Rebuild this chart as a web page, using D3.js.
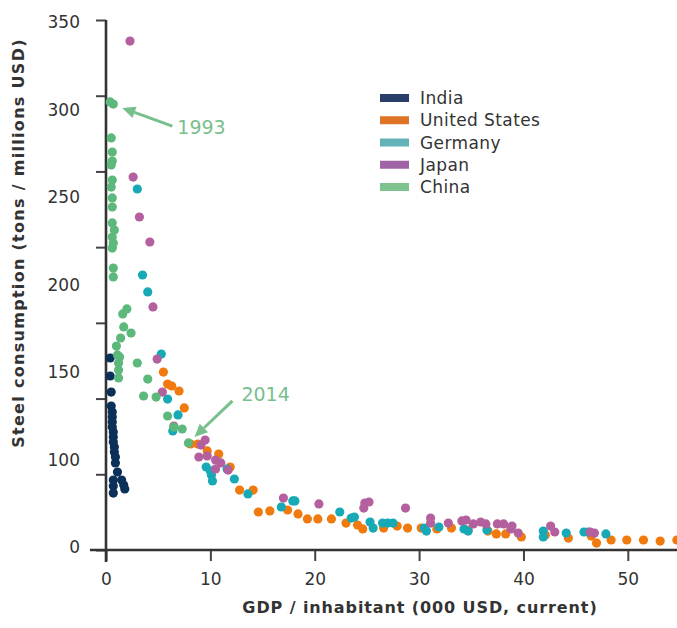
<!DOCTYPE html>
<html>
<head>
<meta charset="utf-8">
<script src="https://cdn.jsdelivr.net/npm/d3@7"></script>
<style>
  html, body { margin: 0; padding: 0; background: #ffffff; }
  svg { display: block; }
</style>
</head>
<body>
<svg id="chart" width="677" height="628"></svg>
<script>
// ---------------- DATA ----------------
const seriesNames = ["India", "United States", "Germany", "Japan", "China"];
const dotColors = ["#0c3159", "#f07a0e", "#17a9b5", "#b4609f", "#5db87c"];
const legendColors = ["#2a3e6a", "#df7429", "#62b2b8", "#a063a5", "#7ec38f"];

const xTickValues = [0, 10, 20, 30, 40, 50];
const yTickValues = [0, 50, 100, 150, 200, 250, 300, 350];
const yTickLabels = ["350", "300", "250", "200", "150", "100", "0"];

const xTitle = "GDP / inhabitant (000 USD, current)";
const yTitle = "Steel consumption (tons / millions USD)";

// [GDP per inhabitant (000 USD), steel consumption]
const india = [
  [0.4,126.8],[0.4,114.9],[0.5,104.3],[0.5,95.1],[0.6,91.1],[0.6,87.8],[0.6,84.5],
  [0.6,81.2],[0.7,77.9],[0.7,74.6],[0.7,71.3],[0.8,68.0],[0.8,64.7],[0.9,61.4],
  [0.9,57.5],[1.1,51.5],[0.7,46.2],[1.5,46.2],[1.7,42.9],[0.7,42.3],[1.8,40.3],[0.7,37.6]
];
const unitedStates = [
  [5.5,117.5],[5.9,109.6],[6.3,108.3],[7.0,105.0],[7.5,93.8],[8.1,70.0],[8.8,70.0],
  [9.7,65.4],[10.8,63.4],[11.9,54.8],[12.8,39.6],[14.1,39.6],[14.6,25.1],[15.7,25.8],
  [17.4,26.4],[18.4,23.8],[19.3,20.5],[20.3,20.5],[21.6,20.5],[23.0,17.8],[24.1,16.5],
  [24.6,13.9],[26.6,14.5],[27.9,15.8],[28.9,14.5],[30.2,14.5],[31.7,13.9],[33.1,14.5],
  [34.7,13.2],[36.6,12.5],[37.4,10.6],[38.3,10.6],[39.8,8.6],[42.1,9.9],[44.3,7.9],
  [46.5,9.2],[47.0,4.6],[48.4,6.6],[49.9,6.6],[51.5,6.6],[53.1,5.9],[54.7,6.6]
];
const germany = [
  [3.0,238.4],[3.5,181.6],[4.0,170.4],[5.3,129.4],[5.9,99.7],[6.9,89.2],[6.4,78.6],
  [9.6,54.8],[10.0,52.2],[10.1,49.5],[10.2,45.6],[11.6,53.5],[12.3,46.9],[13.6,37.0],
  [16.8,28.4],[17.9,32.4],[18.1,32.4],[22.4,25.1],[23.5,21.1],[23.8,21.8],[25.3,18.5],
  [25.6,14.5],[26.5,17.8],[27.0,17.8],[27.5,17.8],[30.5,14.5],[30.7,12.5],[31.9,15.2],
  [34.3,13.9],[34.7,12.5],[36.5,13.2],[41.9,12.5],[41.9,8.6],[44.1,11.2],[45.8,11.9],
  [46.2,11.9],[47.9,10.6]
];
const japan = [
  [2.3,336.1],[2.6,246.3],[3.2,219.9],[4.2,203.4],[4.5,160.5],[4.9,126.1],[5.4,104.3],
  [6.5,81.9],[9.5,72.6],[9.1,69.3],[8.9,61.4],[9.7,62.1],[10.5,59.4],[11.0,57.5],
  [10.5,53.5],[11.7,52.8],[17.0,34.3],[20.4,30.4],[24.8,31.0],[25.2,31.7],[24.7,27.7],
  [28.7,27.7],[31.1,21.1],[31.1,17.8],[32.8,17.8],[34.1,19.2],[34.5,19.8],[35.2,17.2],
  [35.9,18.5],[36.4,17.2],[37.5,17.2],[38.1,17.2],[38.9,15.8],[38.8,13.9],[39.5,11.2],
  [42.6,15.8],[43.0,11.9],[46.4,11.9],[46.8,11.2]
];
const china = [
  [0.4,295.9],[0.7,294.5],[0.5,272.1],[0.6,262.8],[0.6,256.9],[0.5,254.3],[0.6,244.3],
  [0.5,239.7],[0.6,232.5],[0.6,226.5],[0.6,216.0],[0.8,211.3],[0.6,206.7],[0.7,202.7],
  [0.6,199.4],[0.7,186.2],[0.7,180.3],[2.0,159.2],[1.6,155.9],[1.7,147.3],[2.4,143.3],
  [1.4,140.0],[1.0,134.7],[1.1,128.8],[1.3,127.5],[1.2,123.5],[3.0,123.5],[1.2,118.9],
  [1.2,113.6],[4.0,112.9],[3.6,101.7],[4.8,101.0],[5.9,88.5],[6.5,81.2],[7.3,79.9],[7.9,70.7]
];
const seriesData = [india, unitedStates, germany, japan, china];

const annotations = [
  { label: "1993", series: 4, index: 1 },
  { label: "2014", series: 4, index: 35 }
];

// ---------------- CHART ----------------
const svg = d3.select("#chart");
const FONT = "'DejaVu Sans', sans-serif";
const annColor = "#78c08b";

const x = d3.scaleLinear().domain([0, 55]).range([106, 680]);
const y = d3.scaleLinear().domain([0, 350]).range([550, 20]);
const yLabelPos = d3.scalePoint().domain(yTickLabels).range([22, 547]);

// y axis ticks (no labels)
const yAxis = d3.axisLeft(y).tickValues(yTickValues).tickFormat("").tickSize(10).tickSizeOuter(0);
const gy = svg.append("g").attr("transform", `translate(${x(0)},0)`).call(yAxis);
gy.select(".domain").remove();
gy.selectAll(".tick line").attr("stroke", "#444").attr("stroke-width", 2);

// y labels (as printed in the source)
svg.append("g").selectAll("text").data(yTickLabels).join("text")
  .attr("x", 80).attr("y", d => yLabelPos(d))
  .attr("text-anchor", "end").attr("dominant-baseline", "central")
  .attr("font-family", FONT).attr("font-size", 17).attr("fill", "#333")
  .text(d => d);

// x axis
const xAxis = d3.axisBottom(x).tickValues(xTickValues).tickFormat(d3.format("d")).tickSize(11).tickSizeOuter(0).tickPadding(12);
const gx = svg.append("g").attr("transform", `translate(0,${y(0)})`).call(xAxis);
gx.select(".domain").remove();
gx.selectAll(".tick line").attr("stroke", "#444").attr("stroke-width", 2);
gx.selectAll(".tick text").attr("font-family", FONT).attr("font-size", 17).attr("fill", "#333");

// axis lines
svg.append("line").attr("x1", 90).attr("x2", 677).attr("y1", y(0)).attr("y2", y(0))
  .attr("stroke", "#333").attr("stroke-width", 2.6);
svg.append("line").attr("x1", x(0)).attr("x2", x(0)).attr("y1", y(350)).attr("y2", y(0) + 12)
  .attr("stroke", "#333").attr("stroke-width", 2.6);

// dots
const plot = svg.append("g");
seriesData.forEach((pts, i) => {
  plot.append("g").selectAll("circle").data(pts).join("circle")
    .attr("cx", d => x(d[0])).attr("cy", d => y(d[1])).attr("r", 4.6)
    .attr("fill", dotColors[i]);
});

// legend
const legend = svg.append("g");
const legendY = d3.scalePoint().domain(seriesNames).range([98, 187]);
legend.selectAll("rect").data(seriesNames).join("rect")
  .attr("x", 380).attr("y", d => legendY(d) - 4).attr("width", 29).attr("height", 8)
  .attr("fill", (d, i) => legendColors[i]);
legend.selectAll("text").data(seriesNames).join("text")
  .attr("x", 420).attr("y", d => legendY(d)).attr("dominant-baseline", "central")
  .attr("font-family", FONT).attr("font-size", 17).attr("letter-spacing", 0.4).attr("fill", "#333")
  .text(d => d);

// annotations
function arrow(g, x1, y1, x2, y2) {
  const ang = Math.atan2(y2 - y1, x2 - x1);
  const len = 13, w = 6;
  const bx = x2 - len * Math.cos(ang), by = y2 - len * Math.sin(ang);
  g.append("line").attr("x1", x1).attr("y1", y1).attr("x2", bx).attr("y2", by)
    .attr("stroke", annColor).attr("stroke-width", 3);
  const p = [[x2, y2],
    [bx + w * Math.sin(ang), by - w * Math.cos(ang)],
    [bx - w * Math.sin(ang), by + w * Math.cos(ang)]];
  g.append("polygon").attr("points", p.map(q => q.join(",")).join(" ")).attr("fill", annColor);
}
const annG = svg.append("g");
{
  const a = annotations[0];
  const d = seriesData[a.series][a.index];
  const px = x(d[0]), py = y(d[1]);
  arrow(annG, px + 59, py + 22, px + 9, py + 4);
  annG.append("text").attr("x", px + 64).attr("y", py + 30)
    .attr("font-family", FONT).attr("font-size", 19).attr("fill", annColor).text(a.label);
}
{
  const a = annotations[1];
  const d = seriesData[a.series][a.index];
  const px = x(d[0]), py = y(d[1]);
  arrow(annG, px + 44, py - 42, px + 6, py - 6);
  annG.append("text").attr("x", px + 53).attr("y", py - 42)
    .attr("font-family", FONT).attr("font-size", 19).attr("fill", annColor).text(a.label);
}

// axis titles
svg.append("text").attr("x", 420).attr("y", 613).attr("text-anchor", "middle")
  .attr("font-family", FONT).attr("font-size", 16).attr("font-weight", "bold").attr("letter-spacing", 0.9)
  .attr("fill", "#333").text(xTitle);
svg.append("text").attr("transform", "translate(24,243) rotate(-90)").attr("text-anchor", "middle")
  .attr("font-family", FONT).attr("font-size", 16).attr("font-weight", "bold").attr("letter-spacing", 1.3)
  .attr("fill", "#333").text(yTitle);
</script>
</body>
</html>
